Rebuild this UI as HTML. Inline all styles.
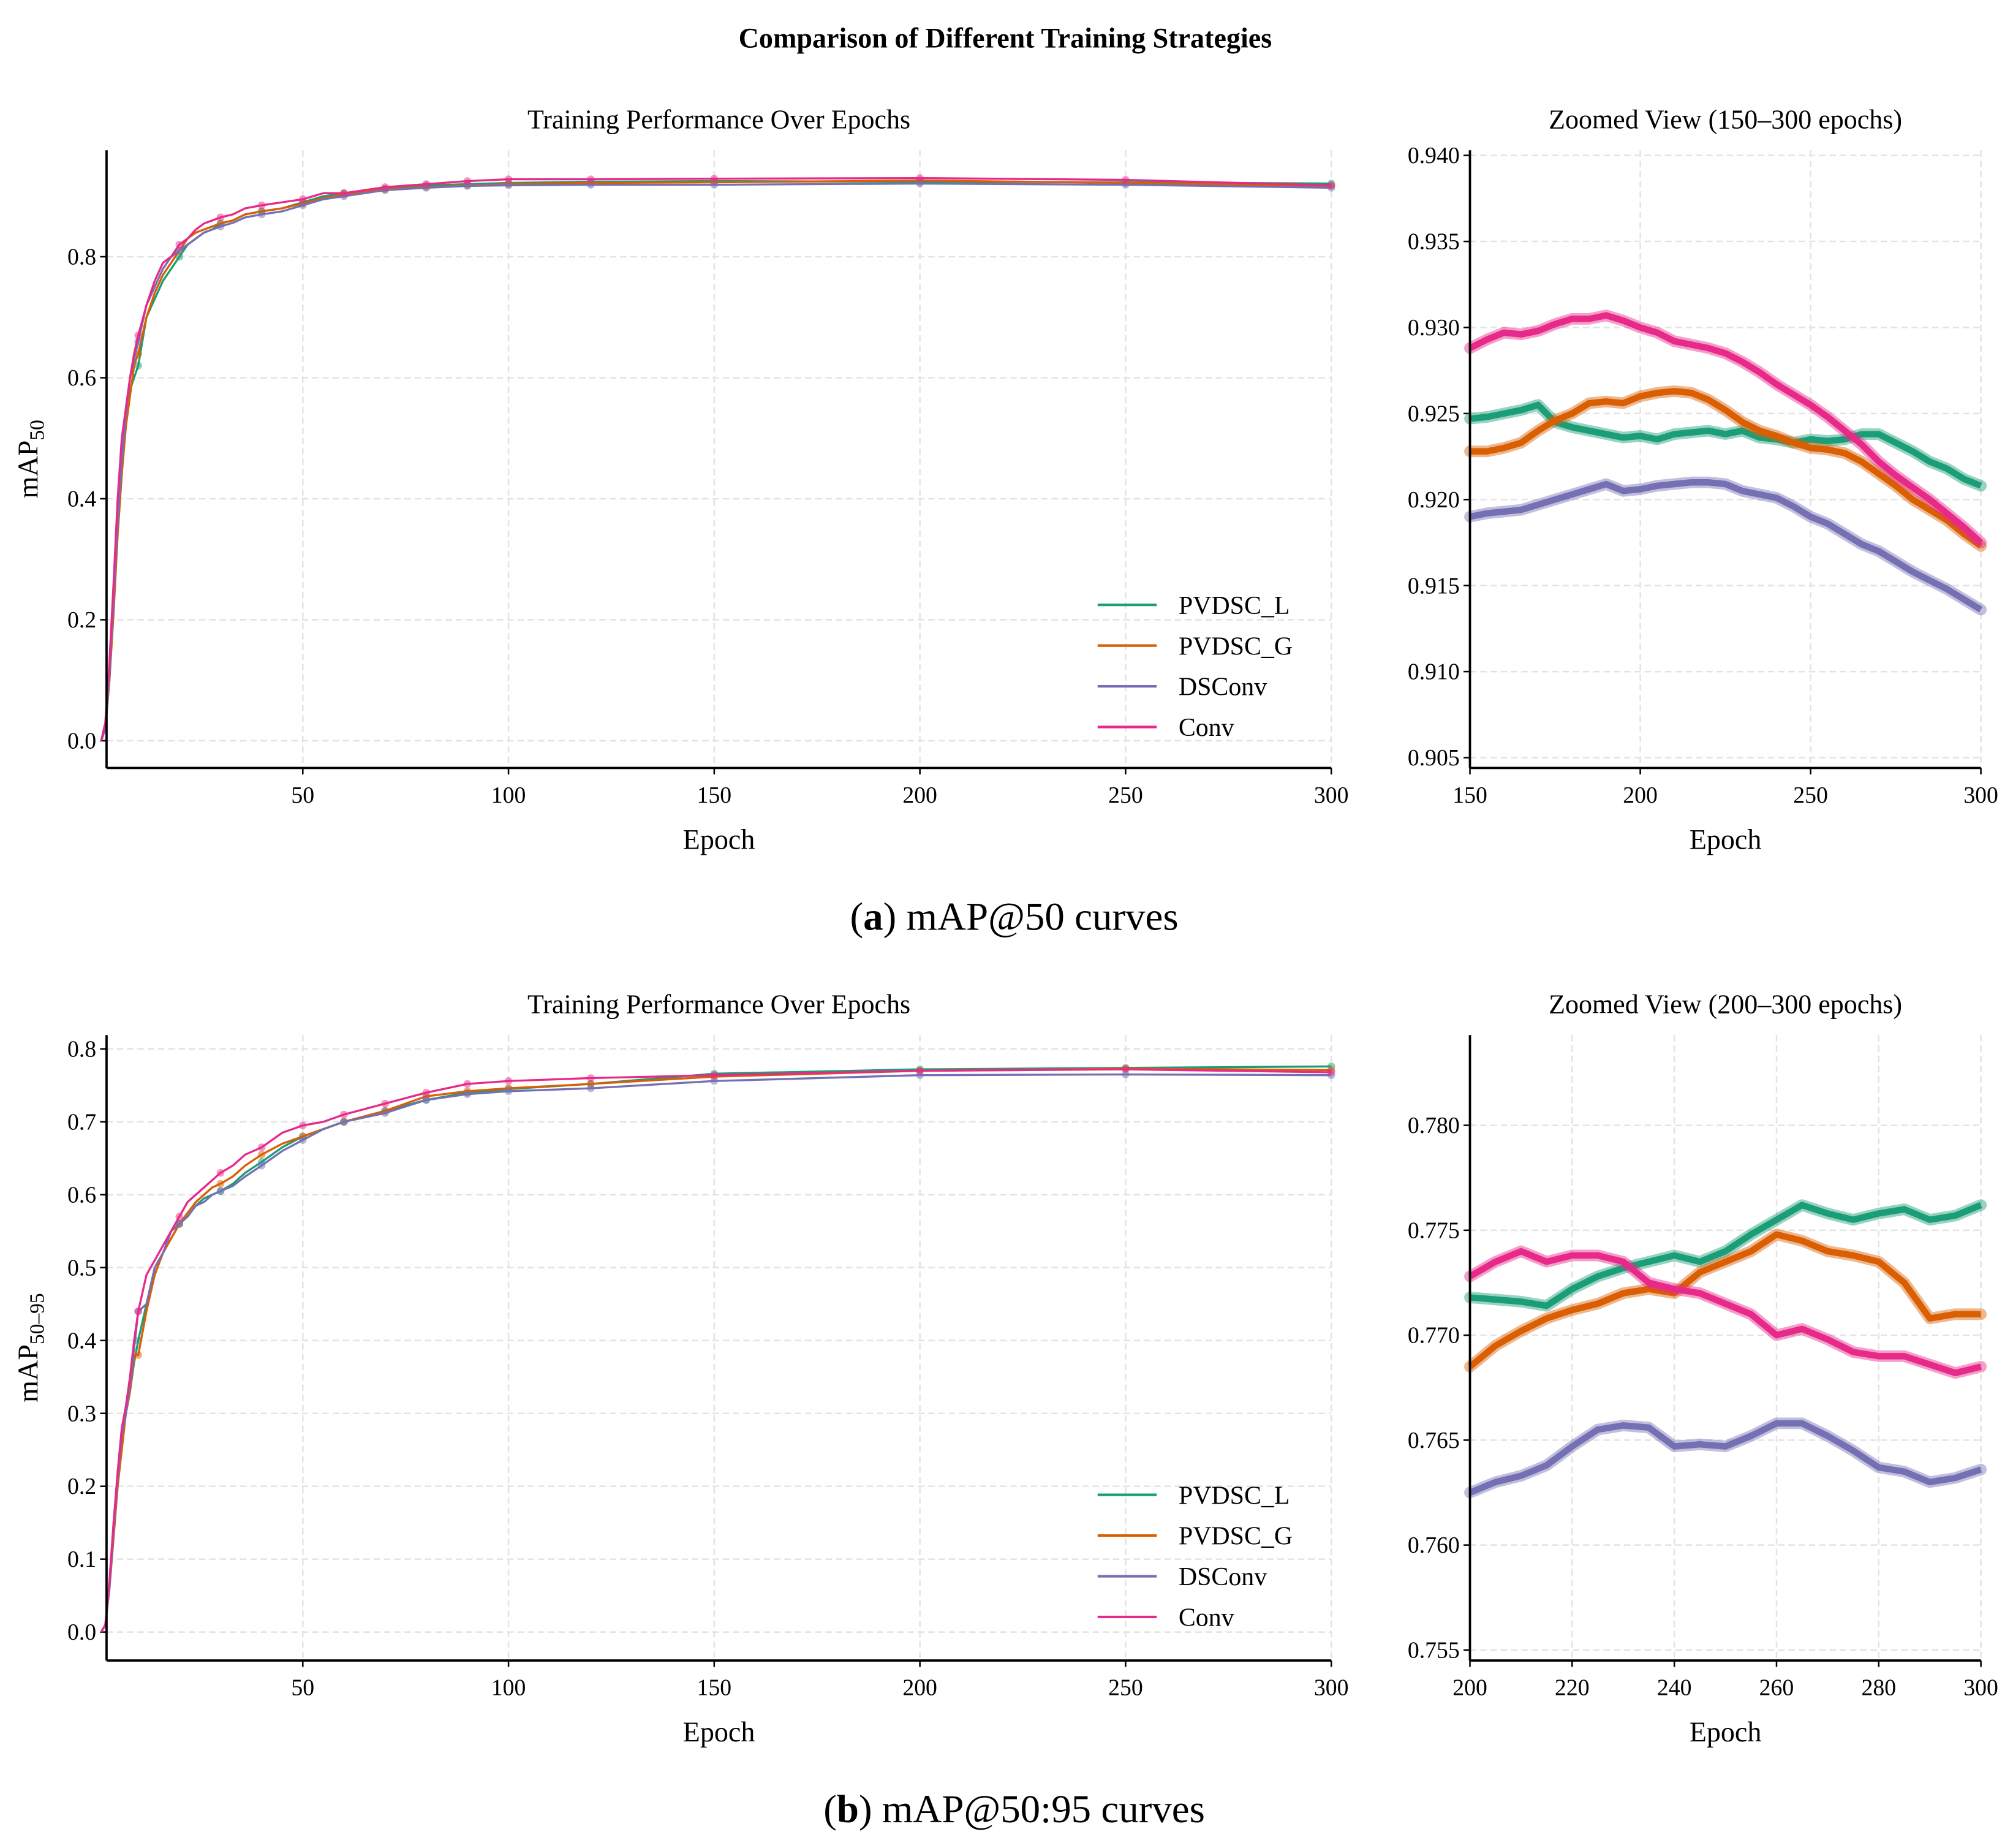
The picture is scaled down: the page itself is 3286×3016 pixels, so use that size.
<!DOCTYPE html>
<html><head><meta charset="utf-8">
<style>
html,body{margin:0;padding:0;background:#fff;}
svg{display:block;font-family:"Liberation Serif",serif;}
</style></head>
<body>
<svg id="fig" width="3286" height="3016" viewBox="0 0 1568 1439" preserveAspectRatio="none" xmlns="http://www.w3.org/2000/svg">
<rect width="1568" height="1439" fill="#fff"/>
<text x="783" y="37" text-anchor="middle" font-size="22" font-weight="bold">Comparison of Different Training Strategies</text>
<text x="790" y="724" text-anchor="middle" font-size="31">(<tspan font-weight="bold">a</tspan>) mAP@50 curves</text>
<text x="790" y="1419" text-anchor="middle" font-size="31">(<tspan font-weight="bold">b</tspan>) mAP@50:95 curves</text>
</svg>
<script>
const seriesNames = ["PVDSC_L","PVDSC_G","DSConv","Conv"];
const seriesColors = ["#1b9e77","#d95f02","#7570b3","#e7298a"];
const mainEpochs = [1,2,3,4,5,6,7,8,9,10,12,14,16,18,20,22,24,26,28,30,33,36,40,45,50,55,60,70,80,90,100,120,150,200,250,300];
const a_L = [0,0.02,0.1,0.22,0.35,0.45,0.52,0.58,0.6,0.62,0.7,0.73,0.76,0.78,0.8,0.82,0.83,0.84,0.845,0.855,0.86,0.87,0.875,0.88,0.89,0.9,0.905,0.912,0.918,0.92,0.922,0.924,0.925,0.924,0.923,0.921];
const a_G = [0,0.02,0.1,0.21,0.34,0.44,0.52,0.57,0.62,0.64,0.7,0.74,0.77,0.79,0.81,0.83,0.84,0.845,0.85,0.855,0.86,0.87,0.875,0.88,0.888,0.897,0.903,0.912,0.915,0.918,0.92,0.922,0.923,0.926,0.922,0.917];
const a_DS = [0,0.02,0.11,0.23,0.36,0.46,0.54,0.6,0.63,0.66,0.72,0.75,0.78,0.8,0.81,0.82,0.83,0.84,0.845,0.85,0.856,0.865,0.87,0.875,0.885,0.895,0.9,0.91,0.914,0.917,0.918,0.919,0.919,0.921,0.919,0.914];
const a_C = [0,0.03,0.13,0.26,0.4,0.5,0.55,0.6,0.64,0.67,0.72,0.76,0.79,0.8,0.82,0.83,0.845,0.855,0.86,0.865,0.87,0.88,0.885,0.89,0.895,0.905,0.905,0.915,0.92,0.925,0.928,0.928,0.929,0.93,0.927,0.918];
const b_L = [0,0.01,0.06,0.13,0.2,0.26,0.3,0.33,0.37,0.4,0.45,0.49,0.52,0.54,0.56,0.57,0.585,0.595,0.6,0.605,0.615,0.63,0.645,0.665,0.68,0.69,0.7,0.715,0.73,0.74,0.745,0.752,0.766,0.772,0.774,0.776];
const b_G = [0,0.01,0.06,0.13,0.2,0.25,0.3,0.33,0.38,0.38,0.44,0.49,0.52,0.54,0.56,0.575,0.59,0.6,0.61,0.615,0.625,0.64,0.655,0.67,0.68,0.69,0.7,0.715,0.735,0.742,0.746,0.752,0.762,0.77,0.773,0.771];
const b_DS = [0,0.01,0.06,0.14,0.21,0.27,0.3,0.34,0.39,0.44,0.45,0.5,0.52,0.55,0.56,0.57,0.585,0.59,0.6,0.605,0.612,0.625,0.64,0.66,0.675,0.69,0.7,0.712,0.73,0.738,0.742,0.746,0.756,0.764,0.765,0.764];
const b_C = [0,0.01,0.07,0.15,0.22,0.28,0.31,0.35,0.4,0.44,0.49,0.51,0.53,0.55,0.57,0.59,0.6,0.61,0.62,0.63,0.64,0.655,0.665,0.685,0.695,0.7,0.71,0.725,0.74,0.752,0.756,0.76,0.764,0.77,0.772,0.768];
const zaEpochs = [150,155,160,165,170,175,180,185,190,195,200,205,210,215,220,225,230,235,240,245,250,255,260,265,270,275,280,285,290,295,300];
const za_L = [0.9247,0.9248,0.9250,0.9252,0.9255,0.9245,0.9242,0.9240,0.9238,0.9236,0.9237,0.9235,0.9238,0.9239,0.9240,0.9238,0.9240,0.9236,0.9235,0.9233,0.9235,0.9234,0.9235,0.9238,0.9238,0.9233,0.9228,0.9222,0.9218,0.9212,0.9208];
const za_G = [0.9228,0.9228,0.9230,0.9233,0.9240,0.9246,0.9250,0.9256,0.9257,0.9256,0.9260,0.9262,0.9263,0.9262,0.9258,0.9252,0.9245,0.9240,0.9237,0.9233,0.9230,0.9229,0.9227,0.9222,0.9215,0.9208,0.9200,0.9194,0.9188,0.9180,0.9173];
const za_DS = [0.9190,0.9192,0.9193,0.9194,0.9197,0.9200,0.9203,0.9206,0.9209,0.9205,0.9206,0.9208,0.9209,0.9210,0.9210,0.9209,0.9205,0.9203,0.9201,0.9196,0.9190,0.9186,0.9180,0.9174,0.9170,0.9164,0.9158,0.9153,0.9148,0.9142,0.9136];
const za_C = [0.9288,0.9293,0.9297,0.9296,0.9298,0.9302,0.9305,0.9305,0.9307,0.9304,0.9300,0.9297,0.9292,0.9290,0.9288,0.9285,0.9280,0.9274,0.9267,0.9261,0.9255,0.9248,0.9240,0.9232,0.9222,0.9214,0.9207,0.9200,0.9192,0.9184,0.9175];
const zbEpochs = [200,205,210,215,220,225,230,235,240,245,250,255,260,265,270,275,280,285,290,295,300];
const zb_L = [0.7718,0.7717,0.7716,0.7714,0.7722,0.7728,0.7732,0.7735,0.7738,0.7735,0.7740,0.7748,0.7755,0.7762,0.7758,0.7755,0.7758,0.7760,0.7755,0.7757,0.7762];
const zb_G = [0.7685,0.7695,0.7702,0.7708,0.7712,0.7715,0.7720,0.7722,0.7720,0.7730,0.7735,0.7740,0.7748,0.7745,0.7740,0.7738,0.7735,0.7725,0.7708,0.7710,0.7710];
const zb_DS = [0.7625,0.7630,0.7633,0.7638,0.7647,0.7655,0.7657,0.7656,0.7647,0.7648,0.7647,0.7652,0.7658,0.7658,0.7652,0.7645,0.7637,0.7635,0.7630,0.7632,0.7636];
const zb_C = [0.7728,0.7735,0.7740,0.7735,0.7738,0.7738,0.7735,0.7725,0.7722,0.7720,0.7715,0.7710,0.7700,0.7703,0.7698,0.7692,0.7690,0.7690,0.7686,0.7682,0.7685];
const aMainTicksX = [50,100,150,200,250,300];
const aMainTicksY = [0,0.2,0.4,0.6,0.8];
const aZoomTicksX = [150,200,250,300];
const aZoomTicksY = [0.905,0.910,0.915,0.920,0.925,0.930,0.935,0.940];
const bMainTicksY = [0,0.1,0.2,0.3,0.4,0.5,0.6,0.7,0.8];
const bZoomTicksX = [200,220,240,260,280,300];
const bZoomTicksY = [0.755,0.760,0.765,0.770,0.775,0.780];

const NS="http://www.w3.org/2000/svg";
const svg=document.getElementById('fig');
function mk(tag,attrs,parent){const e=document.createElementNS(NS,tag);for(const k in attrs)e.setAttribute(k,attrs[k]);(parent||svg).appendChild(e);return e;}

function panel(p){
  const g=mk('g',{});
  
  
  const sx=v=>p.x0+(v-p.xd[0])/(p.xd[1]-p.xd[0])*(p.x1-p.x0);
  const sy=v=>p.y1-(v-p.yd[0])/(p.yd[1]-p.yd[0])*(p.y1-p.y0);
  p.xt.forEach(t=>{
    const x=sx(t);
    const gl=mk('line',{x1:x,x2:x,y1:p.y0,y2:p.y1,stroke:'#e3e3e3','stroke-width':1.2,'stroke-dasharray':'5,3'},g);
    
    
    mk('line',{x1:x,x2:x,y1:p.y1,y2:p.y1+5,stroke:'#000','stroke-width':1.2},g);
    const tx=mk('text',{x:x,y:p.y1+27,'text-anchor':'middle','font-size':18},g);
    tx.textContent=t;
    
    
  });
  p.yt.forEach(t=>{
    const y=sy(t);
    const gl=mk('line',{x1:p.x0,x2:p.x1,y1:y,y2:y,stroke:'#e3e3e3','stroke-width':1.2,'stroke-dasharray':'5,3'},g);
    
    
    mk('line',{x1:p.x0-5,x2:p.x0,y1:y,y2:y,stroke:'#000','stroke-width':1.2},g);
    const tx=mk('text',{x:p.x0-8,y:y+6,'text-anchor':'end','font-size':18},g);
    tx.textContent=t.toFixed(p.dec);
    
    
  });
  p.series.forEach((s,i)=>{
    const pts=p.ex.map((e,j)=>sx(e).toFixed(2)+','+sy(s[j]).toFixed(2)).join(' ');
    if(p.thick){
      const h=mk('polyline',{points:pts,fill:'none',stroke:seriesColors[i],'stroke-width':9,'stroke-opacity':0.45,'stroke-linejoin':'round','stroke-linecap':'round'},g);
      
      
      const l=mk('polyline',{points:pts,fill:'none',stroke:seriesColors[i],'stroke-width':5,'stroke-linejoin':'round'},g);
      
      
    } else {
      const l=mk('polyline',{points:pts,fill:'none',stroke:seriesColors[i],'stroke-width':1.6,'stroke-linejoin':'round'},g);
      
      
      p.ex.forEach((e,j)=>{ if(e%10===0){
        const c=mk('circle',{cx:sx(e),cy:sy(s[j]),r:3,fill:seriesColors[i],'fill-opacity':0.5},g);
        
        
      }});
    }
  });
  mk('line',{x1:p.x0,x2:p.x0,y1:p.y0,y2:p.y1,stroke:'#000','stroke-width':1.8},g);
  mk('line',{x1:p.x0,x2:p.x1,y1:p.y1,y2:p.y1,stroke:'#000','stroke-width':1.8},g);
  const ti=mk('text',{x:(p.x0+p.x1)/2,y:p.y0-17,'text-anchor':'middle','font-size':21},g);
  ti.textContent=p.title;
  
  
  const xl=mk('text',{x:(p.x0+p.x1)/2,y:p.y1+63,'text-anchor':'middle','font-size':22},g);
  xl.textContent='Epoch';
  
  
  if(p.ylab){
    const cy=(p.y0+p.y1)/2;
    const yl=mk('text',{x:0,y:0,'text-anchor':'middle','font-size':22,transform:'translate(29,'+cy+') rotate(-90)'},g);
    yl.innerHTML=p.ylab;
    
    
  }
  if(p.legend){
    const lg=mk('g',{},g);
    
    
    seriesNames.forEach((n,i)=>{
      const y=p.legend+i*31.7;
      const ll=mk('line',{x1:855,x2:901,y1:y,y2:y,stroke:seriesColors[i],'stroke-width':2},lg);
      
      
      const lt=mk('text',{x:918,y:y+7,'font-size':20},lg);
      lt.textContent=n;
      
      
    });
  }
}
panel({name:'panel-a-main',x0:83,x1:1037,y0:117,y1:598,xd:[2.3,300],yd:[-0.045,0.976],xt:aMainTicksX,yt:aMainTicksY,dec:1,ex:mainEpochs,series:[a_L,a_G,a_DS,a_C],title:'Training Performance Over Epochs',ylab:'mAP<tspan font-size="16" dy="5">50</tspan>',legend:471});
panel({name:'panel-a-zoom',x0:1145,x1:1543,y0:117,y1:598,xd:[150,300],yd:[0.9044,0.9403],xt:aZoomTicksX,yt:aZoomTicksY,dec:3,ex:zaEpochs,series:[za_L,za_G,za_DS,za_C],title:'Zoomed View (150–300 epochs)',thick:true});
panel({name:'panel-b-main',x0:83,x1:1037,y0:806,y1:1293,xd:[2.3,300],yd:[-0.039,0.819],xt:aMainTicksX,yt:bMainTicksY,dec:1,ex:mainEpochs,series:[b_L,b_G,b_DS,b_C],title:'Training Performance Over Epochs',ylab:'mAP<tspan font-size="16" dy="5">50–95</tspan>',legend:1164});
panel({name:'panel-b-zoom',x0:1145,x1:1543,y0:806,y1:1293,xd:[200,300],yd:[0.7545,0.7843],xt:bZoomTicksX,yt:bZoomTicksY,dec:3,ex:zbEpochs,series:[zb_L,zb_G,zb_DS,zb_C],title:'Zoomed View (200–300 epochs)',thick:true});
</script>
</body></html>
